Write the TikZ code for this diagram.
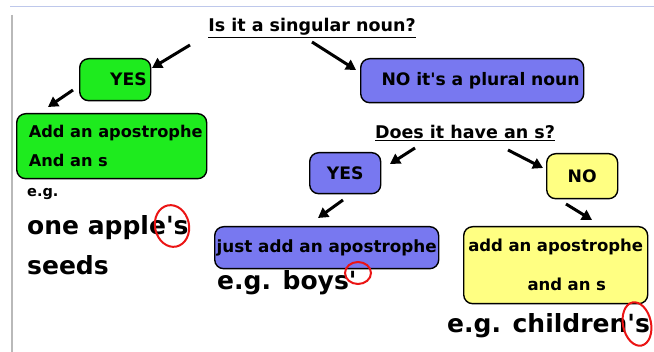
\documentclass[tikz,border=0pt]{standalone}
\usepackage{fontspec}
\setmainfont{DejaVu Sans}[Ligatures=TeXOff]
\usetikzlibrary{arrows.meta}
\definecolor{grn}{RGB}{30,235,30}
\definecolor{blu}{RGB}{120,120,240}
\definecolor{yel}{RGB}{255,255,130}
\definecolor{circ}{RGB}{235,20,20}
\definecolor{topline}{RGB}{190,200,235}
\begin{document}
\begin{tikzpicture}[x=1pt,y=-1pt,
 box/.style={draw=black, line width=1.4pt, rounded corners=9pt, inner ysep=0pt, anchor=north west},
 arr/.style={line width=3pt, -{Triangle[length=10pt,width=11pt]}},
 ring/.style={draw=circ, line width=2pt},
 boxfont/.style={font=\fontsize{17.2}{20}\selectfont\bfseries},
 qfont/.style={font=\fontsize{17.5}{20}\selectfont\bfseries, inner sep=0pt, anchor=base},
 big/.style={font=\fontsize{25}{30}\selectfont\bfseries, inner sep=0pt, anchor=base west}]
\useasboundingbox (0,0) rectangle (654,352);
\fill[white] (0,0) rectangle (654,352);
\draw[topline, line width=1pt] (10,7) -- (654,7);
\draw[gray!55, line width=1.5pt] (12,15) -- (12,352);
% questions
\node[qfont] (q1) at (312,32) {\underline{Is it a singular noun?}};
\node[qfont] (q2) at (465,139) {\underline{Does it have an s?}};
% boxes
\node[box, fill=grn, boxfont, minimum height=42pt, text width=63pt, inner xsep=4pt, align=right] (yes1) at (79,58) {YES};
\node[box, fill=grn, minimum height=65pt, minimum width=190pt, inner xsep=0pt, align=left, font=\fontsize{16.2}{29}\selectfont\bfseries] (add1) at (16,113) {\hspace*{8pt}Add an apostrophe\\\hspace*{8pt}And an s};
\node[box, fill=blu, boxfont, minimum height=44pt, text width=215pt, inner xsep=4pt, align=right] (no1) at (360,58) {NO it's a plural noun};
\node[box, fill=blu, boxfont, minimum height=41pt, text width=63pt, inner xsep=4pt, align=center] (yes2) at (309,152) {YES};
\node[box, fill=yel, boxfont, minimum height=45pt, text width=63pt, inner xsep=4pt, align=center] (no2) at (546,153) {NO};
\node[box, fill=blu, minimum height=42pt, minimum width=224pt, inner xsep=0pt, font=\fontsize{16.8}{20}\selectfont\bfseries] (just) at (214,226) {just add an apostrophe};
\node[box, fill=yel, minimum height=77pt, text width=178pt, inner xsep=3pt, align=center, font=\fontsize{16.5}{39}\selectfont\bfseries] (add2) at (463,226) {add an apostrophe\\\hspace*{22pt}and an s};
% examples
\node[font=\fontsize{14.5}{18}\selectfont\bfseries, anchor=base west, inner sep=0pt] (eg1) at (27,197) {e.g.};
\node[big] (apple) at (27,235) {one apple's};
\node[big] (seeds) at (27,275) {seeds};
\node[big] (boys) at (217,290) {e.g. boys'};
\node[big] (child) at (447,333) {e.g. children's};
% rings
\draw[ring, rotate around={12:(172,226)}] (172,226) ellipse (17pt and 21pt);
\draw[ring] (358,273) ellipse (13pt and 11pt);
\draw[ring, rotate around={12:(637,324)}] (637,324) ellipse (14pt and 22pt);
% arrows
\coordinate (a1s) at (190,45);  \coordinate (a1e) at (152,68);
\coordinate (a2s) at (73,90);   \coordinate (a2e) at (48,107);
\coordinate (a3s) at (312,42);  \coordinate (a3e) at (356,70);
\coordinate (a4s) at (415,148); \coordinate (a4e) at (390,164);
\coordinate (a5s) at (508,150); \coordinate (a5e) at (543,168);
\coordinate (a6s) at (343,200); \coordinate (a6e) at (318,218);
\coordinate (a7s) at (566,204); \coordinate (a7e) at (592,220);
\foreach \i in {1,...,7} {\draw[arr] (a\i s) -- (a\i e);}
\end{tikzpicture}
\end{document}
